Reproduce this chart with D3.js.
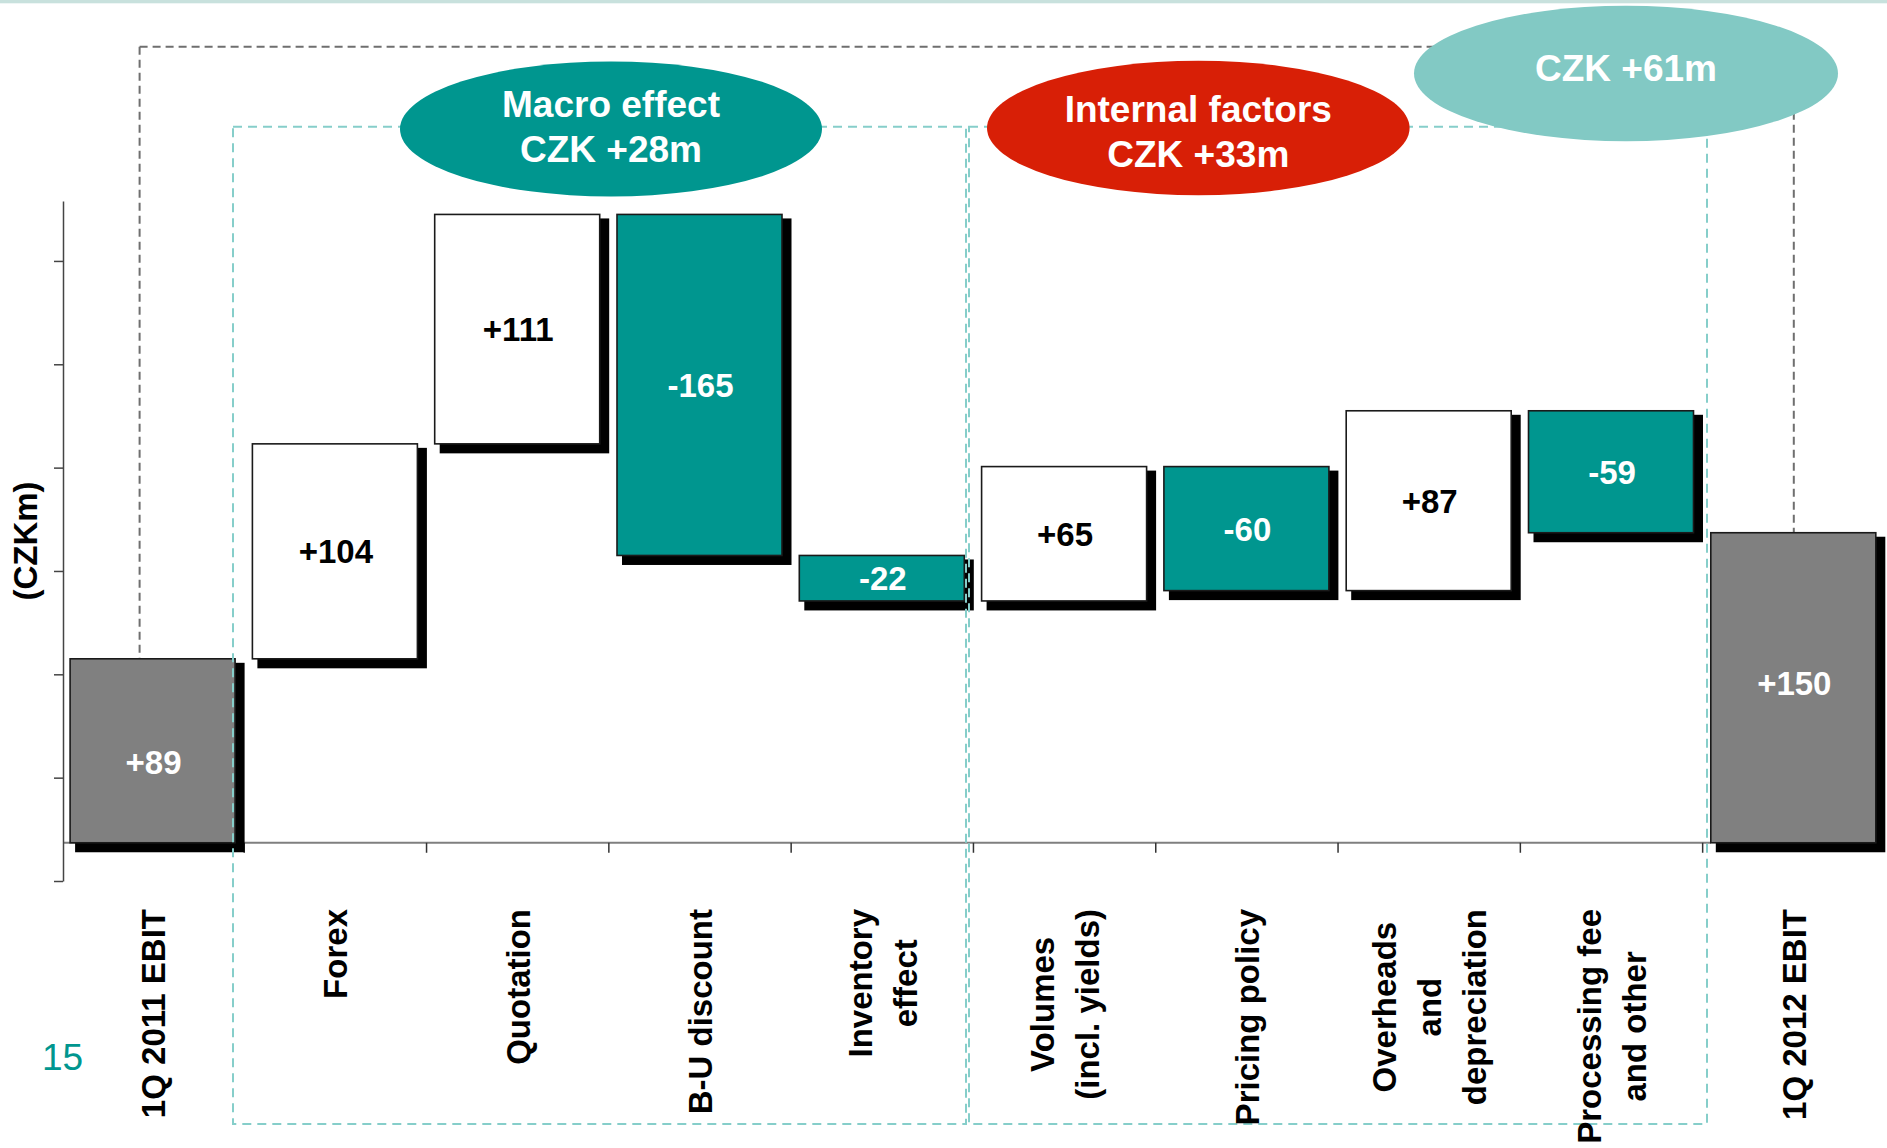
<!DOCTYPE html>
<html>
<head>
<meta charset="utf-8">
<script src="https://cdn.jsdelivr.net/npm/d3@7/dist/d3.min.js"></script>
<style>
  html, body { margin: 0; padding: 0; background: #ffffff; }
  svg { display: block; }
  text { font-family: "Liberation Sans", Arial, Helvetica, sans-serif; }
</style>
</head>
<body>
<svg id="chart" width="1887" height="1148"></svg>
<script>
// EBIT bridge 1Q 2011 -> 1Q 2012 (CZK m)
const categories = [
  ["1Q 2011 EBIT"],
  ["Forex"],
  ["Quotation"],
  ["B-U discount"],
  ["Inventory", "effect"],
  ["Volumes", "(incl. yields)"],
  ["Pricing policy"],
  ["Overheads", "and", "depreciation"],
  ["Processing fee", "and other"],
  ["1Q 2012 EBIT"]
];
const values = [89, 104, 111, -165, -22, 65, -60, 87, -59, 150];
const barKinds = ["total", "delta", "delta", "delta", "delta", "delta", "delta", "delta", "delta", "total"];
const groupNames = ["Macro effect", "Internal factors", ""];
const groupTotals = [28, 33, 61];
const yTicks = [-18.5, 31.5, 81.5, 131.5, 181.5, 231.5, 281.5];
const pageNumber = "15";

const TEAL = "#00968f", RED = "#d81f06", LIGHT_TEAL = "#82c9c4", GREY_BAR = "#808080";
const DASH_TEAL = "#86ceca", DASH_GREY = "#6f6f6f";

const svg = d3.select("#chart");

// top rule
svg.append("rect").attr("x", 0).attr("y", 0).attr("width", 1887).attr("height", 3.3)
  .attr("fill", "#c8e1dd");

const x = d3.scaleBand()
  .domain(d3.range(categories.length))
  .range([61.95, 1884.95])
  .paddingInner(0.0894)
  .paddingOuter(0.0447);
const y = d3.scaleLinear().domain([-18.5, 310.5]).range([881, 201]);

// waterfall extents
let run = 0;
const bars = values.map((v, i) => {
  let lo, hi;
  if (barKinds[i] === "total") { lo = 0; hi = v; run = v; }
  else { lo = Math.min(run, run + v); hi = Math.max(run, run + v); run += v; }
  return { i, v, lo, hi, kind: barKinds[i] };
});

function fillOf(b) {
  if (b.kind === "total") return GREY_BAR;
  return b.v < 0 ? TEAL : "#ffffff";
}
function fmt(v) { return (v > 0 ? "+" : "-") + Math.abs(v); }

// outer grey dashed bracket (total change)
const gLeftX = x(0) + x.bandwidth() / 2 - 13.5;
const gRightX = x(9) + x.bandwidth() / 2;
const gTop = 46.7;
const grey = svg.append("g").attr("fill", "none").attr("stroke", DASH_GREY)
  .attr("stroke-width", 2).attr("stroke-dasharray", "8,5");
grey.append("line").attr("x1", gLeftX).attr("x2", gRightX).attr("y1", gTop).attr("y2", gTop);
grey.append("line").attr("x1", gLeftX).attr("x2", gLeftX).attr("y1", gTop).attr("y2", y(bars[0].hi));
grey.append("line").attr("x1", gRightX).attr("x2", gRightX).attr("y1", gTop).attr("y2", y(bars[9].hi));

// x axis baseline and separators
svg.append("line")
  .attr("x1", 63).attr("x2", x(9)).attr("y1", y(0)).attr("y2", y(0))
  .attr("stroke", "#7f7f7f").attr("stroke-width", 2);
const half = x.step() * x.paddingInner() / 2;
svg.append("g").selectAll("line").data(d3.range(1, categories.length)).join("line")
  .attr("x1", i => x(i) - half).attr("x2", i => x(i) - half)
  .attr("y1", y(0)).attr("y2", y(0) + 10)
  .attr("stroke", "#333").attr("stroke-width", 1.5);

// y axis
const yAxis = svg.append("g").attr("transform", "translate(63,0)")
  .call(d3.axisLeft(y).tickValues(yTicks).tickSize(9).tickSizeOuter(0).tickFormat(""));
yAxis.select(".domain").attr("stroke", "#444").attr("stroke-width", 1.5);
yAxis.selectAll(".tick line").attr("stroke", "#444").attr("stroke-width", 1.5);

// bar shadows
const bw = x.bandwidth() - 1;
svg.append("g").selectAll("rect").data(bars).join("rect")
  .attr("x", d => x(d.i) + 5)
  .attr("y", d => y(d.hi) + 4)
  .attr("width", bw + 4.5)
  .attr("height", d => y(d.lo) - y(d.hi) + 5.5)
  .attr("fill", "#000");

// bars
svg.append("g").selectAll("rect").data(bars).join("rect")
  .attr("x", d => x(d.i))
  .attr("y", d => y(d.hi))
  .attr("width", bw)
  .attr("height", d => y(d.lo) - y(d.hi))
  .attr("fill", fillOf)
  .attr("stroke", "#1a1a1a").attr("stroke-width", 1.6);

// value labels
const labelNudge = { 0: 11.5, 9: -5 };
svg.append("g").selectAll("text").data(bars).join("text")
  .attr("x", d => x(d.i) + bw / 2 + 1)
  .attr("y", d => (y(d.lo) + y(d.hi)) / 2 + 12 + (labelNudge[d.i] || 0))
  .attr("text-anchor", "middle")
  .attr("font-size", 33).attr("font-weight", "bold")
  .attr("fill", d => fillOf(d) === "#ffffff" ? "#000" : "#fff")
  .text(d => fmt(d.v));

// teal dashed group boxes
const boxTop = 126.7, boxBottom = 1124;
const boxes = [[233, 966], [969, 1707]];
const tealG = svg.append("g").attr("fill", "none").attr("stroke", DASH_TEAL)
  .attr("stroke-width", 2).attr("stroke-dasharray", "9,6");
boxes.forEach(([l, r]) => {
  tealG.append("rect").attr("x", l).attr("y", boxTop).attr("width", r - l).attr("height", boxBottom - boxTop);
});

// category labels (rotated)
const catG = svg.append("g");
categories.forEach((lines, i) => {
  const cx = x(i) + x.bandwidth() / 2;
  const g = catG.append("g");
  const texts = lines.map((t, k) => g.append("text")
    .attr("text-anchor", "middle")
    .attr("font-size", 33).attr("font-weight", "bold").attr("fill", "#000")
    .attr("x", 0)
    .attr("y", 12 + (k - (lines.length - 1) / 2) * 45)
    .text(t));
  const maxLen = d3.max(texts, t => t.node().getComputedTextLength());
  g.attr("transform", `translate(${cx},${909 + maxLen / 2}) rotate(-90)`);
});

// y axis title
svg.append("text")
  .attr("transform", "translate(37,541) rotate(-90)")
  .attr("text-anchor", "middle")
  .attr("font-size", 33).attr("font-weight", "bold").attr("fill", "#000")
  .text("(CZKm)");

// group ellipses
const bubbles = [
  { cx: 611, cy: 129, rx: 211, ry: 67.5, fill: TEAL, lines: [groupNames[0], "CZK +" + groupTotals[0] + "m"], base: [117.3, 162.3] },
  { cx: 1198.3, cy: 128, rx: 211.3, ry: 67.2, fill: RED, lines: [groupNames[1], "CZK +" + groupTotals[1] + "m"], base: [122.3, 166.7] },
  { cx: 1626, cy: 73.5, rx: 212, ry: 67.7, fill: LIGHT_TEAL, lines: ["CZK +" + groupTotals[2] + "m"], base: [80.5] }
];
const bG = svg.append("g");
bubbles.forEach(b => {
  bG.append("ellipse").attr("cx", b.cx).attr("cy", b.cy).attr("rx", b.rx).attr("ry", b.ry).attr("fill", b.fill);
  b.lines.forEach((t, k) => {
    bG.append("text").attr("x", b.cx).attr("y", b.base[k])
      .attr("text-anchor", "middle")
      .attr("font-size", 37).attr("font-weight", "bold").attr("fill", "#fff")
      .text(t);
  });
});

// page number
svg.append("text").attr("x", 42).attr("y", 1070)
  .attr("font-size", 37).attr("fill", TEAL)
  .text(pageNumber);
</script>
</body>
</html>
